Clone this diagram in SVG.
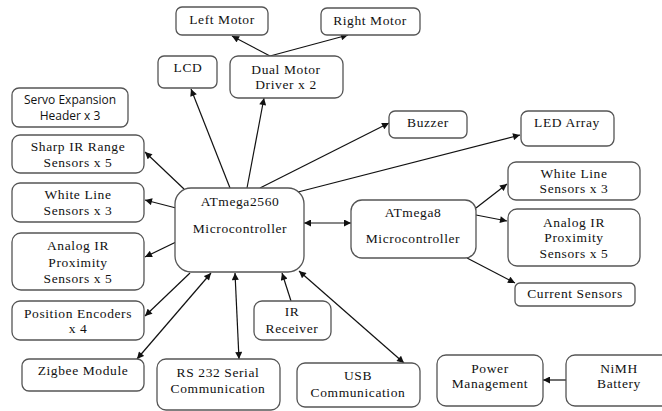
<svg xmlns="http://www.w3.org/2000/svg" width="662" height="411" viewBox="0 0 662 411">
<defs>
<style>
.box{fill:#fff;stroke:#555;stroke-width:1.3}
.t{font-family:"Liberation Serif","Times New Roman",serif;font-size:13.5px;letter-spacing:0.6px;fill:#111;text-anchor:middle}
.s{font-family:"Open Sans","Liberation Sans",sans-serif;font-size:12px;fill:#111;text-anchor:middle}
.c line{stroke:#111;stroke-width:1.2;fill:none}
</style>
<marker id="a" viewBox="0 0 10 10" refX="10" refY="5" markerWidth="8" markerHeight="7" markerUnits="userSpaceOnUse" orient="auto-start-reverse">
<path d="M0,0L10,5L0,10z" fill="#111"/>
</marker>
</defs>
<rect width="662" height="411" fill="#fff"/>
<g class="c">
<line x1="270" y1="56" x2="232" y2="36" marker-end="url(#a)"/>
<line x1="270" y1="56" x2="348" y2="35" marker-end="url(#a)"/>
<line x1="230" y1="188" x2="191" y2="89" marker-end="url(#a)"/>
<line x1="247" y1="188" x2="264" y2="98" marker-end="url(#a)"/>
<line x1="260" y1="188" x2="389" y2="123" marker-end="url(#a)"/>
<line x1="298" y1="192" x2="520" y2="135" marker-end="url(#a)"/>
<line x1="184" y1="189" x2="145" y2="152" marker-end="url(#a)"/>
<line x1="176" y1="208" x2="145" y2="200" marker-end="url(#a)"/>
<line x1="176" y1="242" x2="145" y2="257" marker-end="url(#a)"/>
<line x1="304" y1="223" x2="351" y2="223" marker-start="url(#a)" marker-end="url(#a)"/>
<line x1="476" y1="208" x2="507" y2="184" marker-end="url(#a)"/>
<line x1="476" y1="215" x2="507" y2="221" marker-end="url(#a)"/>
<line x1="467" y1="258" x2="515" y2="283" marker-end="url(#a)"/>
<line x1="190" y1="273" x2="145" y2="316" marker-end="url(#a)"/>
<line x1="211" y1="273" x2="137" y2="359" marker-start="url(#a)" marker-end="url(#a)"/>
<line x1="235" y1="273" x2="239" y2="359" marker-start="url(#a)" marker-end="url(#a)"/>
<line x1="291" y1="301" x2="282" y2="273" marker-end="url(#a)"/>
<line x1="299" y1="271" x2="404" y2="363" marker-start="url(#a)" marker-end="url(#a)"/>
<line x1="566" y1="380" x2="543" y2="380" marker-end="url(#a)"/>
</g>
<g id="left-motor"><rect class="box" x="176" y="7" width="92" height="28" rx="6"/><text class="t" x="222" y="24">Left Motor</text></g>
<g id="right-motor"><rect class="box" x="321" y="8" width="99" height="27" rx="6"/><text class="t" x="370" y="25">Right Motor</text></g>
<g id="lcd"><rect class="box" x="158" y="56" width="59" height="32" rx="6"/><text class="t" x="188" y="72">LCD</text></g>
<g id="dual-motor"><rect class="box" x="230" y="56" width="113" height="42" rx="8"/><text class="t" x="286" y="74">Dual Motor</text><text class="t" x="286" y="89">Driver x 2</text></g>
<g id="servo"><rect class="box" x="12" y="88" width="116" height="39" rx="7"/><text class="s" x="70" y="104">Servo Expansion</text><text class="s" x="70" y="120">Header x 3</text></g>
<g id="buzzer"><rect class="box" x="389" y="111" width="78" height="27" rx="6"/><text class="t" x="428" y="127">Buzzer</text></g>
<g id="led-array"><rect class="box" x="521" y="111" width="93" height="35" rx="7"/><text class="t" x="567" y="127">LED Array</text></g>
<g id="sharp-ir"><rect class="box" x="12" y="135" width="132" height="38" rx="8"/><text class="t" x="78" y="151">Sharp IR Range</text><text class="t" x="78" y="167">Sensors x 5</text></g>
<g id="white-line-left"><rect class="box" x="12" y="183" width="132" height="39" rx="8"/><text class="t" x="78" y="199">White Line</text><text class="t" x="78" y="215">Sensors x 3</text></g>
<g id="analog-ir-left"><rect class="box" x="12" y="233" width="132" height="57" rx="9"/><text class="t" x="78" y="250">Analog IR</text><text class="t" x="78" y="266.5">Proximity</text><text class="t" x="78" y="283">Sensors x 5</text></g>
<g id="atmega2560"><rect class="box" x="175" y="188" width="129" height="84" rx="16"/><text class="t" x="240" y="206">ATmega2560</text><text class="t" x="240" y="233">Microcontroller</text></g>
<g id="atmega8"><rect class="box" x="351" y="200" width="125" height="58" rx="11"/><text class="t" x="413" y="217">ATmega8</text><text class="t" x="413" y="243">Microcontroller</text></g>
<g id="white-line-right"><rect class="box" x="508" y="162" width="132" height="38" rx="8"/><text class="t" x="574" y="178">White Line</text><text class="t" x="574" y="193">Sensors x 3</text></g>
<g id="analog-ir-right"><rect class="box" x="508" y="209" width="132" height="57" rx="9"/><text class="t" x="574" y="227">Analog IR</text><text class="t" x="574" y="242">Proximity</text><text class="t" x="574" y="258">Sensors x 5</text></g>
<g id="current-sensors"><rect class="box" x="515" y="283" width="120" height="23" rx="5"/><text class="t" x="575" y="298">Current Sensors</text></g>
<g id="position-encoders"><rect class="box" x="12" y="301" width="132" height="39" rx="8"/><text class="t" x="78" y="318">Position Encoders</text><text class="t" x="78" y="333">x 4</text></g>
<g id="zigbee"><rect class="box" x="22" y="359" width="122" height="32" rx="7"/><text class="t" x="83" y="375">Zigbee Module</text></g>
<g id="rs232"><rect class="box" x="157" y="359" width="123" height="51" rx="9"/><text class="t" x="218" y="377">RS 232 Serial</text><text class="t" x="218" y="393">Communication</text></g>
<g id="ir-receiver"><rect class="box" x="254" y="301" width="77" height="39" rx="8"/><text class="t" x="292" y="316">IR</text><text class="t" x="292" y="333">Receiver</text></g>
<g id="usb"><rect class="box" x="297" y="363" width="123" height="44" rx="8"/><text class="t" x="358" y="380">USB</text><text class="t" x="358" y="397">Communication</text></g>
<g id="power-management"><rect class="box" x="437" y="355" width="106" height="51" rx="9"/><text class="t" x="490" y="373">Power</text><text class="t" x="490" y="388">Management</text></g>
<g id="nimh-battery"><rect class="box" x="566" y="355" width="106" height="51" rx="9"/><text class="t" x="619" y="373">NiMH</text><text class="t" x="619" y="388">Battery</text></g>
</svg>
